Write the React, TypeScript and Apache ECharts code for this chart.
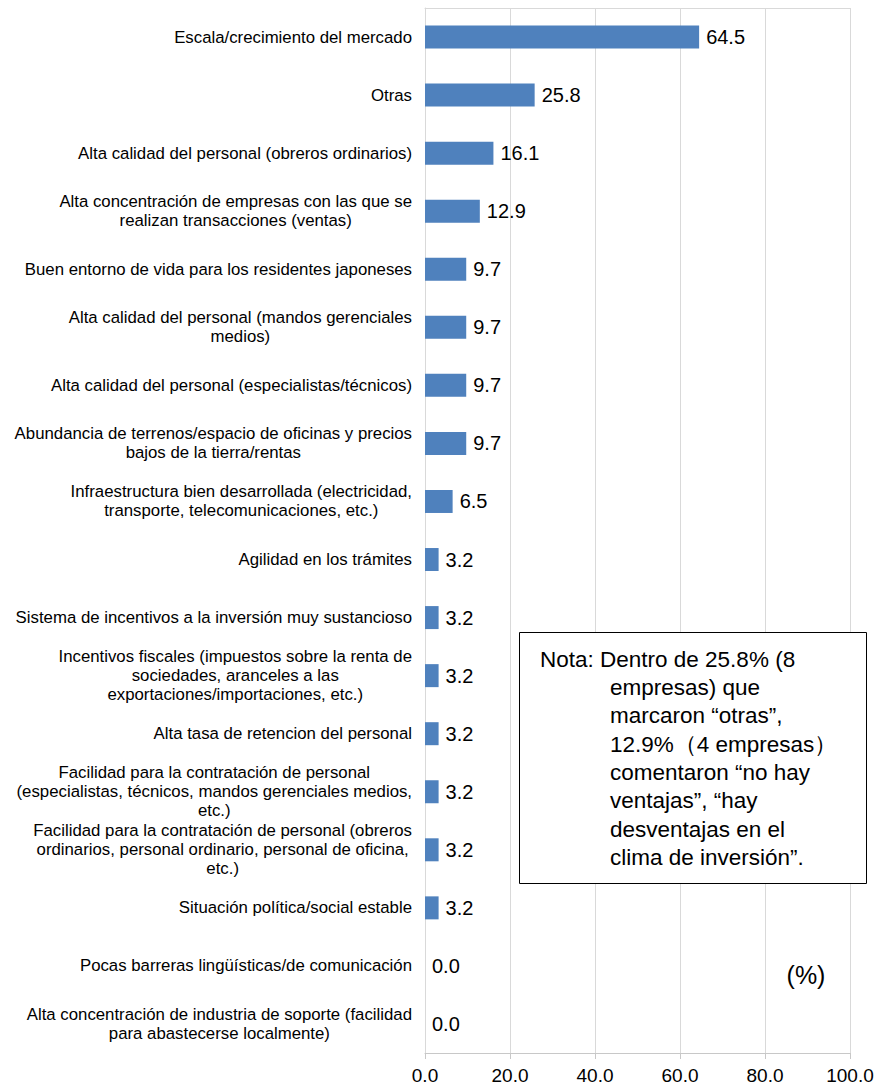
import React, { useEffect, useRef } from "react";
import * as echarts from "echarts";

const categories: string[] = [
  "Escala/crecimiento del mercado",
  "Otras",
  "Alta calidad del personal (obreros ordinarios)",
  "Alta concentración de empresas con las que se\nrealizan transacciones (ventas)",
  "Buen entorno de vida para los residentes japoneses",
  "Alta calidad del personal (mandos gerenciales\nmedios)",
  "Alta calidad del personal (especialistas/técnicos)",
  "Abundancia de terrenos/espacio de oficinas y precios\nbajos de la tierra/rentas",
  "Infraestructura bien desarrollada (electricidad,\ntransporte, telecomunicaciones, etc.)",
  "Agilidad en los trámites",
  "Sistema de incentivos a la inversión muy sustancioso",
  "Incentivos fiscales (impuestos sobre la renta de\nsociedades, aranceles a las\nexportaciones/importaciones, etc.)",
  "Alta tasa de retencion del personal",
  "Facilidad para la contratación de personal\n(especialistas, técnicos, mandos gerenciales medios,\netc.)",
  "Facilidad para la contratación de personal (obreros\nordinarios, personal ordinario, personal de oficina,\netc.)",
  "Situación política/social estable",
  "Pocas barreras lingüísticas/de comunicación",
  "Alta concentración de industria de soporte (facilidad\npara abastecerse localmente)",
];

const values: number[] = [
  64.5, 25.8, 16.1, 12.9, 9.7, 9.7, 9.7, 9.7, 6.5, 3.2, 3.2, 3.2, 3.2, 3.2, 3.2, 3.2, 0.0, 0.0,
];

const noteFirst = "Nota: Dentro de 25.8% (8";
const noteRest: string[] = [
  "empresas) que",
  "marcaron “otras”,",
  "12.9%（4 empresas）",
  "comentaron “no hay",
  "ventajas”, “hay",
  "desventajas en el",
  "clima de inversión”.",
];
const unitLabel = "(%)";

const FONT = "'Liberation Sans', Arial, sans-serif";

export default function App() {
  const ref = useRef<HTMLDivElement>(null);
  useEffect(() => {
    if (!ref.current) return;
    const chart = echarts.init(ref.current, undefined, { renderer: "svg" });
    const gridColor = "#D9D9D9";
    chart.setOption({
      animation: false,
      backgroundColor: "#ffffff",
      textStyle: { fontFamily: FONT },
      grid: { left: 425, right: 35, top: 8, bottom: 36, containLabel: false },
      xAxis: [
        {
          type: "value",
          min: 0,
          max: 100,
          interval: 20,
          position: "bottom",
          axisLine: { show: true, lineStyle: { color: "#C8C8C8", width: 1 } },
          axisTick: { show: true, length: 6, lineStyle: { color: "#C8C8C8" } },
          splitLine: { show: true, lineStyle: { color: gridColor, width: 1 } },
          axisLabel: {
            formatter: (v: number) => v.toFixed(1),
            fontSize: 19,
            color: "#000",
            margin: 13,
            fontFamily: FONT,
          },
        },
        {
          type: "value",
          min: 0,
          max: 100,
          interval: 20,
          position: "top",
          axisLine: { show: true, lineStyle: { color: gridColor, width: 1 } },
          axisTick: { show: false },
          splitLine: { show: false },
          axisLabel: { show: false },
        },
      ],
      yAxis: {
        type: "category",
        inverse: true,
        data: categories,
        axisLine: { show: true, lineStyle: { color: gridColor } },
        axisTick: { show: false },
        axisLabel: {
          interval: 0,
          margin: 13,
          formatter: (v: string) =>
            v
              .split("\n")
              .map((l) => `{c|${l}}`)
              .join("\n"),
          rich: {
            c: {
              align: "center",
              fontSize: 16.8,
              lineHeight: 19,
              color: "#000",
              fontFamily: FONT,
            },
          },
        },
      },
      series: [
        {
          type: "bar",
          data: values,
          xAxisIndex: 0,
          barWidth: 23,
          itemStyle: { color: "#4F81BD" },
          label: {
            show: true,
            position: "right",
            distance: 7,
            formatter: (p: any) => Number(p.value).toFixed(1),
            fontSize: 20,
            color: "#000",
            fontFamily: FONT,
          },
        },
      ],
      graphic: [
        {
          type: "rect",
          shape: { x: 519.5, y: 632.5, width: 347, height: 251 },
          style: { fill: "#ffffff", stroke: "#000000", lineWidth: 1 },
          z: 10,
        },
        {
          type: "text",
          x: 540,
          y: 659,
          style: {
            text: noteFirst,
            fontSize: 22.5,
            fontFamily: FONT,
            fill: "#000",
            verticalAlign: "middle",
          },
          z: 11,
        },
        {
          type: "text",
          x: 610,
          y: 673,
          style: {
            text: noteRest.join("\n"),
            fontSize: 22.5,
            lineHeight: 28.4,
            fontFamily: FONT,
            fill: "#000",
            verticalAlign: "top",
          },
          z: 11,
        },
        {
          type: "text",
          x: 806,
          y: 975,
          style: {
            text: unitLabel,
            fontSize: 25,
            fontFamily: FONT,
            fill: "#000",
            align: "center",
            verticalAlign: "middle",
          },
          z: 11,
        },
      ],
    });
    return () => chart.dispose();
  }, []);
  return <div ref={ref} style={{ width: 885, height: 1089, position: "absolute", left: 0, top: 0 }} />;
}
